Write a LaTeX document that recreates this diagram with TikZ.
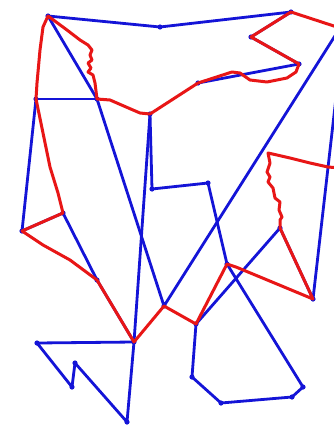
\documentclass[tikz,border=0pt]{standalone}
\begin{document}
\begin{tikzpicture}[x=1pt,y=-1pt,
  bl/.style={draw=myblue,line width=2.8pt,line join=round,line cap=round},
  rd/.style={draw=myred,line width=3pt,line join=round,line cap=round},
  dot/.style={fill=myblue}]
\definecolor{myblue}{RGB}{20,20,215}
\definecolor{myred}{RGB}{232,22,22}
\useasboundingbox (0,0) rectangle (334,426);
\clip (0,0) rectangle (334,426);
\fill[white] (0,0) rectangle (334,426);
% vertices
\coordinate (A) at (48,16);
\coordinate (B) at (160,27);
\coordinate (C) at (291,12);
\coordinate (D) at (251,37);
\coordinate (E) at (299,64);
\coordinate (F) at (198,83);
\coordinate (G) at (36,99);
\coordinate (H) at (97,99);
\coordinate (I) at (150,114);
\coordinate (L) at (152,189);
\coordinate (M) at (208,183);
\coordinate (P) at (227,264);
\coordinate (W) at (303,387);
\coordinate (V) at (292,397);
\coordinate (U) at (221,403);
\coordinate (T) at (192,377);
\coordinate (S) at (196,324);
\coordinate (R) at (280,228);
\coordinate (X) at (313,299);
\coordinate (Xe) at (338,80);
\coordinate (N) at (164,306);
\coordinate (Ne) at (345,20);
\coordinate (Y) at (22,231);
\coordinate (Z) at (63,213);
\coordinate (AA) at (97,280);
\coordinate (K) at (134,342);
\coordinate (BB) at (37,343);
\coordinate (DD) at (72,387);
\coordinate (EE) at (75,363);
\coordinate (CC) at (127,422);
% blue graph
\draw[bl] (A) -- (B) -- (C) -- (D) -- (E) -- (F);
\draw[bl] (A) -- (H) -- (N) -- (Ne);
\draw[bl] (G) -- (H);
\draw[bl] (G) -- (Y) -- (Z) -- (AA) -- (K);
\draw[bl] (I) -- (L) -- (M) -- (P) -- (W) -- (V) -- (U) -- (T) -- (S) -- (R) -- (X) -- (Xe);
\draw[bl] (I) -- (K);
\draw[bl] (K) -- (BB) -- (DD) -- (EE) -- (CC) -- (K);
\foreach \p in {A,B,C,D,E,F,G,H,I,L,M,P,W,V,U,T,S,R,X,N,Y,Z,AA,K,BB,DD,EE,CC}
  \fill[dot] (\p) circle (2.6pt);
% red path
\coordinate (Rs) at (340,28);
\coordinate (Re) at (340,168);
\draw[rd] (Rs) -- (C) -- (D) -- (E) -- (296,72) -- (287,78) -- (267,82) -- (250,80)
  -- (240,73) -- (232,72) -- (F) -- (I) -- (140,113) -- (133,110) -- (110,100) -- (H)
  -- (95,83) -- (93,75) -- (88,72) -- (91,68) -- (88,63) -- (92,60) -- (90,55)
  -- (92,50) -- (88,45) -- (80,40) -- (67,30) -- (A)
  -- (43,27) -- (40,50) -- (37,83) -- (G) -- (43,133) -- (50,167) -- (58,193) -- (Z)
  -- (Y) -- (43,245) -- (70,260) -- (AA) -- (K) -- (N) -- (S) -- (P) -- (236,267) -- (X)
  -- (R) -- (280,220) -- (282,217) -- (279,210) -- (280,202) -- (275,198) -- (273,188)
  -- (268,182) -- (270,177) -- (267,172) -- (270,163) -- (268,153) -- (277,155)
  -- (290,158) -- (310,163) -- (328,167) -- (Re);
\end{tikzpicture}
\end{document}
